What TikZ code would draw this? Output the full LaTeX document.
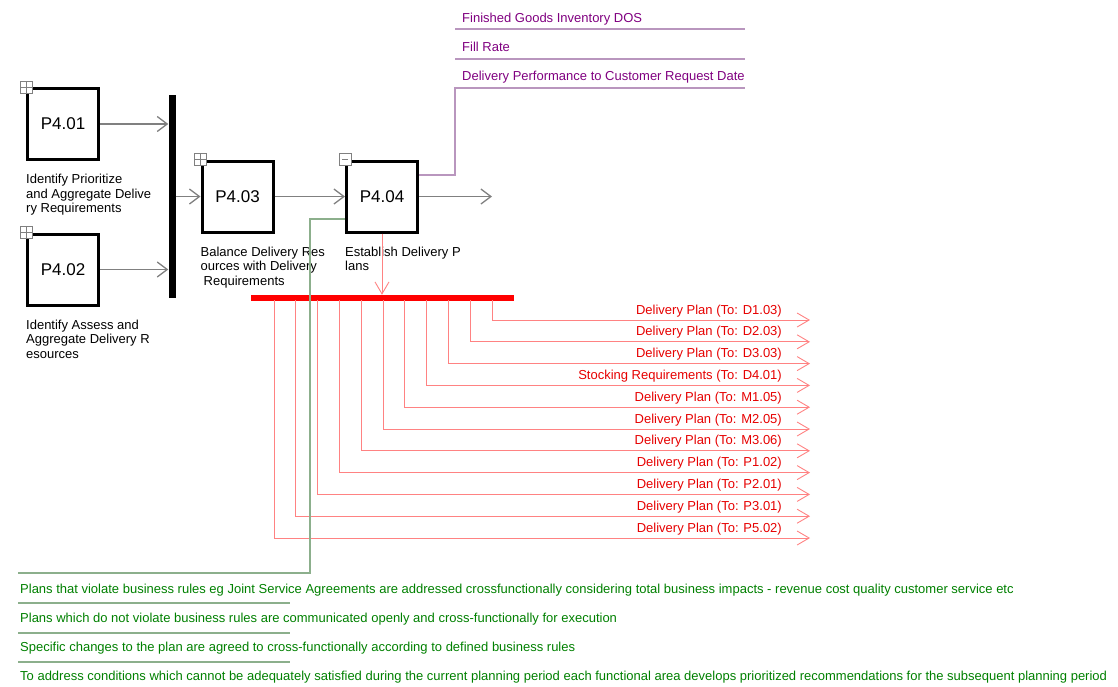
\documentclass[tikz,border=0pt]{standalone}
\usepackage{fontspec}
\setmainfont{Liberation Sans}
\usetikzlibrary{arrows.meta,positioning}

\definecolor{flowgray}{RGB}{128,128,128}
\definecolor{kpitext}{RGB}{128,0,128}
\definecolor{kpiline}{RGB}{185,150,190}
\definecolor{outtext}{RGB}{230,0,0}
\definecolor{outline}{RGB}{255,130,130}
\definecolor{notetext}{RGB}{0,128,0}
\definecolor{noteline}{RGB}{140,175,140}

\begin{document}
\begin{tikzpicture}[x=1pt,y=-1pt,
  process/.style={draw=black, line width=3pt, minimum size=71pt, inner sep=0pt, font=\fontsize{17}{20}\selectfont},
  caption/.style={align=left, inner sep=0pt, font=\fontsize{13}{14.5}\selectfont},
  expander/.style={draw=flowgray, fill=white, line width=0.8pt, minimum size=12pt, inner sep=0pt,
    path picture={\draw[flowgray, line width=0.8pt] (path picture bounding box.north) -- (path picture bounding box.south)
      (path picture bounding box.west) -- (path picture bounding box.east);}},
  collapser/.style={draw=flowgray, fill=white, line width=0.8pt, minimum size=12pt, inner sep=0pt,
    path picture={\draw[flowgray, line width=1pt] ([xshift=3pt]path picture bounding box.west) -- ([xshift=-3pt]path picture bounding box.east);}},
  flow/.style={draw=flowgray, line width=1.3pt, -{Straight Barb[length=10pt,width=15pt]}},
  redflow/.style={draw=outline, line width=0.9pt, -{Straight Barb[length=12pt,width=14pt]}},
  outlabel/.style={anchor=base east, inner sep=0pt, text=outtext, font=\fontsize{13}{15}\selectfont},
  kpilabel/.style={anchor=base west, inner sep=0pt, text=kpitext, font=\fontsize{13}{15}\selectfont},
  notelabel/.style={anchor=base west, inner sep=0pt, text=notetext, font=\fontsize{13}{15}\selectfont},
  kpi/.style={draw=kpiline, line width=1.2pt},
  note/.style={draw=noteline, line width=1.2pt}]
\useasboundingbox (0,0) rectangle (1118,686);

% process boxes
\node[process] (p401) at (63,124) {P4.01};
\node[process] (p402) at (63,269.5) {P4.02};
\node[process] (p403) at (237.5,196.5) {P4.03};
\node[process] (p404) at (382,196.5) {P4.04};

\node[expander] (x401) at (p401.north west) {};
\node[expander] (x402) at (p402.north west) {};
\node[expander] (x403) at (p403.north west) {};
\node[collapser] (x404) at (p404.north west) {};

\node[caption, below right=13pt and 0pt of p401.south west] (c401) {Identify Prioritize\\and Aggregate Delive\\ry Requirements};
\node[caption, below right=13pt and 0pt of p402.south west] (c402) {Identify Assess and\\Aggregate Delivery R\\esources};
\node[caption, below right=13pt and 0pt of p403.south west] (c403) {Balance Delivery Res\\ources with Delivery\\\hspace*{3pt}Requirements};
\node[caption, below right=13pt and 0pt of p404.south west] (c404) {Establish Delivery P\\lans};

% join bar and flows
\node[fill=black, minimum width=7pt, minimum height=203pt, inner sep=0pt] (join) at (172,196.5) {};
\coordinate (p404out) at (492,196.5);
\draw[flow] (p401) -- (p401 -| join.west);
\draw[flow] (p402) -- (p402 -| join.west);
\draw[flow] (join.east |- p403) -- (p403);
\draw[flow] (p403) -- (p404);
\draw[flow] (p404) -- (p404out);

% outputs
\node[fill=red, minimum width=263pt, minimum height=6pt, inner sep=0pt] (bus) at (382.5,298) {};
\draw[redflow] (p404) -- (p404 |- bus.north);
\foreach \lbl [count=\i from 0] in {Delivery Plan (To: D1.03), Delivery Plan (To: D2.03), Delivery Plan (To: D3.03),
  Stocking Requirements (To: D4.01), Delivery Plan (To: M1.05), Delivery Plan (To: M2.05), Delivery Plan (To: M3.06),
  Delivery Plan (To: P1.02), Delivery Plan (To: P2.01), Delivery Plan (To: P3.01), Delivery Plan (To: P5.02)}{
  \coordinate (drop\i) at ({492-21.8*\i},300);
  \coordinate (out\i) at (810,{320+21.8*\i});
  \draw[redflow] (drop\i) |- (out\i);
  \node[outlabel] (lbl\i) at (782,{314+21.8*\i}) {\lbl};
}

% metrics
\coordinate (kpibend) at (455,88);
\coordinate (kpiend) at (745,88);
\draw[kpi] ([yshift=21.5pt]p404.east) -| (kpibend) -- (kpiend);
\draw[kpi] (455,59) -- (745,59);
\draw[kpi] (455,29) -- (745,29);
\node[kpilabel] (k1) at (462,22.7) {Finished Goods Inventory DOS};
\node[kpilabel] (k2) at (462,51.7) {Fill Rate};
\node[kpilabel] (k3) at (462,80.7) {Delivery Performance to Customer Request Date};

% practices
\coordinate (notebend) at (310,573);
\coordinate (noteend) at (18,573);
\draw[note] ([yshift=-22.5pt]p404.west) -| (notebend) -- (noteend);
\foreach \y in {603,633,662}
  \draw[note] (18,\y) -- (290,\y);
\node[notelabel] (n1) at (20,593.7) {Plans that violate business rules eg Joint Service Agreements are addressed crossfunctionally considering total business impacts - revenue cost quality customer service etc};
\node[notelabel] (n2) at (20,622.7) {Plans which do not violate business rules are communicated openly and cross-functionally for execution};
\node[notelabel] (n3) at (20,651.7) {Specific changes to the plan are agreed to cross-functionally according to defined business rules};
\node[notelabel] (n4) at (20,680.7) {To address conditions which cannot be adequately satisfied during the current planning period each functional area develops prioritized recommendations for the subsequent planning period};
\end{tikzpicture}
\end{document}
